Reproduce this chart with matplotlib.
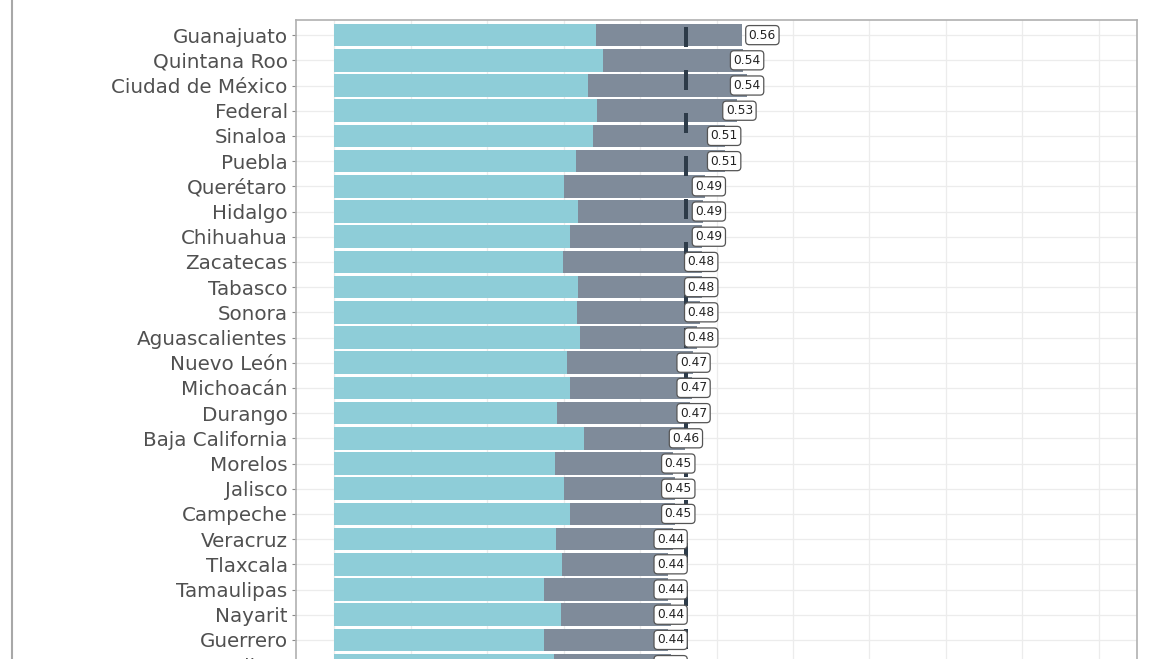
import numpy as np
import matplotlib
matplotlib.use("Agg")
import matplotlib.pyplot as plt
from matplotlib.lines import Line2D

plt.rcParams['font.family'] = ['DejaVu Sans']
plt.rcParams['lines.scale_dashes'] = False

# data (top to bottom)
states = ["Guanajuato", "Quintana Roo", "Ciudad de México", "Federal", "Sinaloa",
          "Puebla", "Querétaro", "Hidalgo", "Chihuahua", "Zacatecas", "Tabasco",
          "Sonora", "Aguascalientes", "Nuevo León", "Michoacán", "Durango",
          "Baja California", "Morelos", "Jalisco", "Campeche", "Veracruz",
          "Tlaxcala", "Tamaulipas", "Nayarit", "Guerrero", "Colima"]
part_a = [0.342, 0.352, 0.332, 0.344, 0.339, 0.316, 0.300, 0.319, 0.309, 0.299,
          0.319, 0.317, 0.321, 0.304, 0.309, 0.291, 0.327, 0.289, 0.300, 0.308,
          0.290, 0.298, 0.275, 0.296, 0.275, 0.287]
total = [0.533, 0.535, 0.540, 0.527, 0.511, 0.511, 0.485, 0.482, 0.481, 0.481,
         0.481, 0.478, 0.475, 0.469, 0.468, 0.465, 0.459, 0.443, 0.446, 0.446,
         0.443, 0.437, 0.437, 0.440, 0.437, 0.440]
index = [0.56, 0.54, 0.54, 0.53, 0.51, 0.51, 0.49, 0.49, 0.49, 0.48, 0.48, 0.48,
         0.48, 0.47, 0.47, 0.47, 0.46, 0.45, 0.45, 0.45, 0.44, 0.44, 0.44, 0.44,
         0.44, 0.44]
national = 0.46

part_b = np.array(total) - np.array(part_a)
y = np.arange(len(states))

fig = plt.figure(figsize=(11.66, 6.59), dpi=100)
H = 659
row_px = 25.2
ylim_bottom = 27.0
top_px = 20
ax_h_px = (ylim_bottom + 0.6) * row_px
ax = fig.add_axes([296 / 1166, 1 - (top_px + ax_h_px) / H,
                   (1137 - 296) / 1166, ax_h_px / H])

teal = "#8ecdd8"
slate = "#7f8b9a"
ax.barh(y, part_a, height=0.9, color=teal, zorder=2)
ax.barh(y, part_b, left=part_a, height=0.9, color=slate, zorder=2)

# dashed reference line (national value)
px2pt = 72 / 100
ax.plot([national, national], [-0.6, ylim_bottom], color="#2d3b49", lw=4 * px2pt,
        linestyle=(36 * px2pt, (20 * px2pt, 23 * px2pt)), zorder=3,
        solid_capstyle="butt", dash_capstyle="butt")

for yi, v in zip(y, index):
    ax.text(v, yi, f"{v:.2f}", ha="center", va="center", fontsize=8.8,
            color="#222222", zorder=4,
            bbox=dict(boxstyle="round,pad=0.25,rounding_size=0.3",
                      fc="white", ec="#555555", lw=0.9))

ax.set_xlim(-0.05, 1.05)
ax.set_ylim(ylim_bottom, -0.6)
ax.set_yticks(y)
ax.set_yticklabels(states, fontsize=14.3, color="#505050")
ax.set_xticks(np.arange(0, 1.01, 0.1))
ax.tick_params(axis="y", length=3, width=0.8, color="#8a8a8a", pad=3)
ax.tick_params(axis="x", length=0, labelbottom=False)
ax.grid(True, color="#ececec", lw=0.9, zorder=0)
ax.set_axisbelow(True)
for s in ax.spines.values():
    s.set_color("#b0b0b0")
    s.set_linewidth(1.2)

# screenshot frame edge on the left
fig.add_artist(Line2D([12 / 1166, 12 / 1166], [0, 1], color="#a8a8a8", lw=1.5))

fig.savefig("out.png", dpi=100)
